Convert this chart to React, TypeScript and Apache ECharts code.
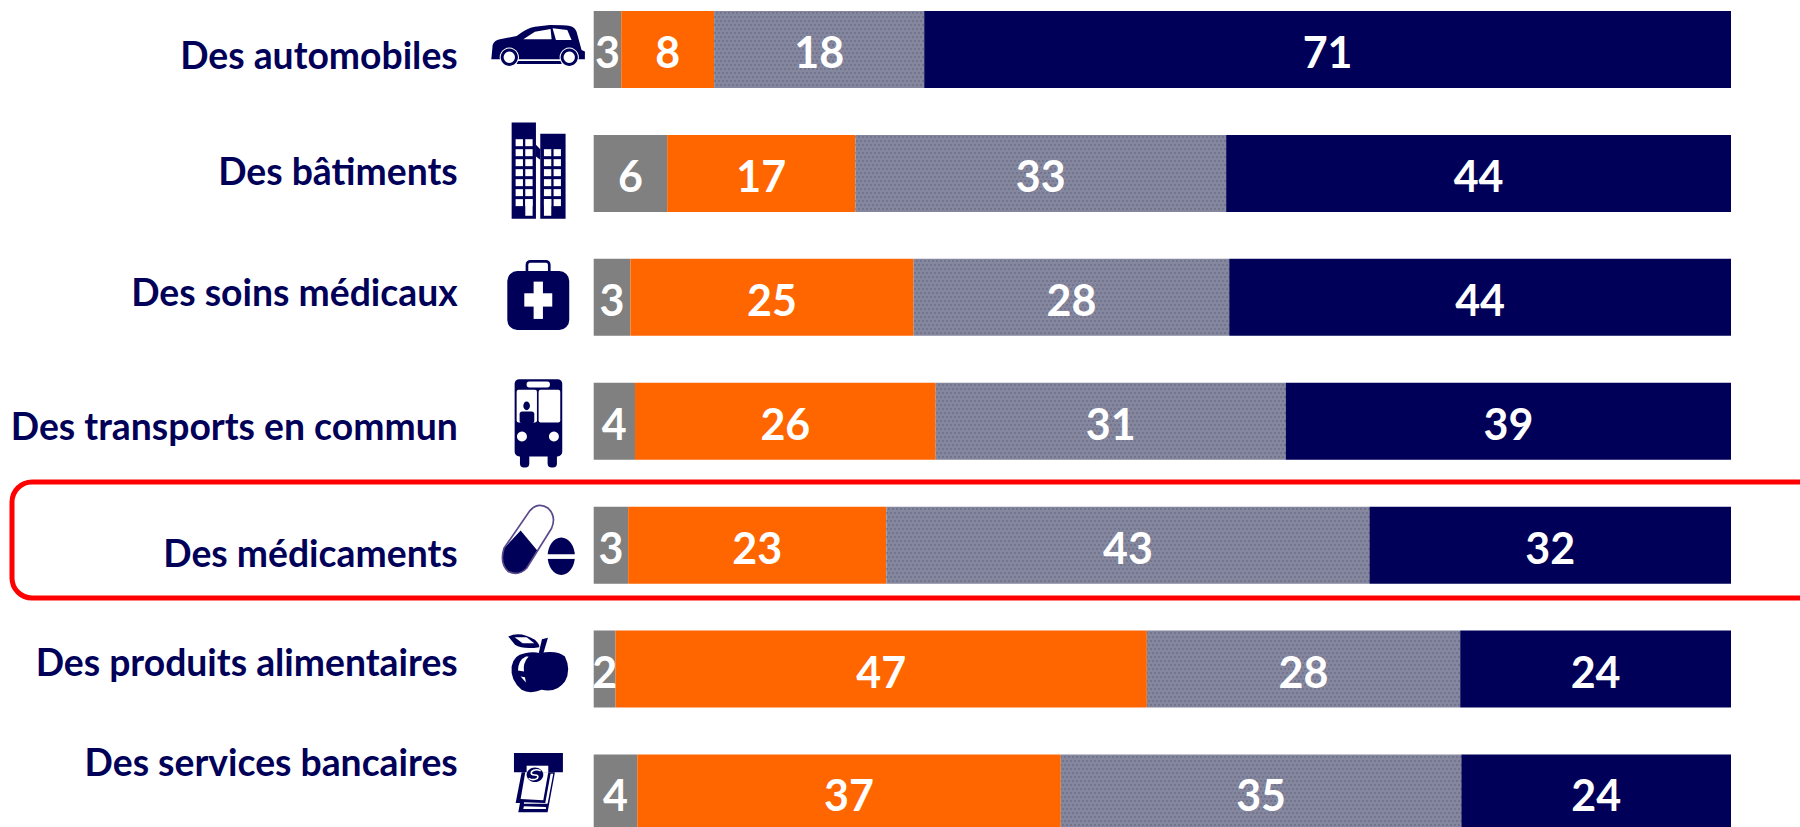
import React, { useEffect, useRef } from "react";
import * as echarts from "echarts";

const categories = ["Des automobiles", "Des bâtiments", "Des soins médicaux", "Des transports en commun", "Des médicaments", "Des produits alimentaires", "Des services bancaires"];
// Segment lengths (%), and the integers printed on them
const grayValues = [2.42, 6.46, 3.23, 3.63, 3.03, 1.92, 3.83];
const orangeValues = [8.17, 16.55, 24.9, 26.44, 22.7, 46.72, 37.24];
const hatchValues = [18.47, 32.6, 27.75, 30.78, 42.48, 27.55, 35.22];
const navyValues = [70.94, 44.39, 44.12, 39.15, 31.79, 23.81, 23.71];
const grayLabels = [3, 6, 3, 4, 3, 2, 4];
const orangeLabels = [8, 17, 25, 26, 23, 47, 37];
const hatchLabels = [18, 33, 28, 31, 43, 28, 35];
const navyLabels = [71, 44, 44, 39, 32, 24, 24];
// vertical nudge of each category label relative to its bar (px)
const labelShift = [5, -3, -6, 4, 7, -8, -31];

const NAVY = "#000058";
const WHITE = "#FFFFFF";
const FONT = "Lato";

echarts.graphic.registerShape("carBody", echarts.graphic.extendPath("M34 178 L38 135 Q42 122 60 118 L110 108 Q140 84 165 80 L210 75 Q255 75 270 78 Q285 82 290 95 L305 150 L315 155 L315 178 Z M110 183 L245 183 L245 192 L110 192 Z", {}));
echarts.graphic.registerShape("capsule", echarts.graphic.extendPath("M72 205 L150 92 Q175 65 205 85 Q230 110 215 145 L140 265 Q115 290 85 275 Q58 250 72 205 Z", {}));
echarts.graphic.registerShape("capsuleFill", echarts.graphic.extendPath("M122 152 L172 212 L140 265 Q115 290 85 275 Q58 250 72 205 Z", {}));
echarts.graphic.registerShape("appleBody", echarts.graphic.extendPath("M180 520 Q230 510 255 530 Q275 570 255 605 Q230 640 185 630 Q150 645 125 630 Q90 600 95 560 Q100 525 135 520 Q160 515 180 520 Z", {}));
echarts.graphic.registerShape("appleLeaf", echarts.graphic.extendPath("M85 470 Q120 452 165 480 Q180 495 178 502 Q130 510 105 495 Z", {}));
echarts.graphic.registerShape("appleShine", echarts.graphic.extendPath("M138 530 Q115 540 114 572 L132 575 Q128 550 146 530 Z M122 590 L138 608 L135 592 Z", {}));
echarts.graphic.registerShape("atmS", echarts.graphic.extendPath("M182 873 Q165 866 155 876 Q150 886 165 886 Q178 886 172 896 Q160 904 146 896", {}));

const rect = (x: number, y: number, w: number, h: number, fill = NAVY, r = 0) => ({ type: "rect", shape: { x, y, width: w, height: h, r }, style: { fill } });
const circ = (cx: number, cy: number, r: number, fill = NAVY) => ({ type: "circle", shape: { cx, cy, r }, style: { fill } });
const poly = (points: number[][], fill = NAVY) => ({ type: "polygon", shape: { points }, style: { fill } });
const shp = (type: string, style: object) => ({ type, style });

function windows(xs: number[], first: number, count: number) {
  const out: object[] = [];
  xs.forEach((x) => {
    for (let i = 0; i < count; i++) out.push(rect(x, first + i * 30, 22, 21, WHITE));
  });
  return out;
}

const iconCar = [
  shp("carBody", { fill: NAVY }),
  poly([[130, 118], [165, 95], [212, 87], [215, 118]], WHITE),
  poly([[218, 85], [262, 90], [275, 120], [228, 120]], WHITE),
  circ(88, 172, 29, WHITE), circ(88, 172, 26), circ(88, 172, 17, WHITE),
  circ(268, 172, 29, WHITE), circ(268, 172, 26), circ(268, 172, 17, WHITE),
];
const iconBuilding = [
  rect(95, 368, 73, 289), rect(181, 402, 76, 255),
  poly([[168, 435], [181, 448], [181, 480], [168, 470]]),
  ...windows([107, 136], 418, 7),
  ...windows([192, 221], 448, 6),
  rect(136, 598, 22, 50, WHITE), rect(192, 598, 22, 50, WHITE),
];
const iconBag = [
  { type: "rect", shape: { x: 141, y: 64, width: 67, height: 40, r: 10 }, style: { fill: "none", stroke: NAVY, lineWidth: 8 } },
  rect(82, 93, 186, 177, NAVY, 30),
  rect(133, 160, 84, 40, WHITE), rect(161, 125, 28, 112, WHITE),
];
const iconBus = [
  rect(120, 620, 28, 63, NAVY, 12), rect(203, 620, 28, 63, NAVY, 12),
  rect(104, 418, 143, 232, NAVY, 14),
  rect(140, 425, 70, 18, WHITE, 8),
  rect(110, 450, 61, 98, WHITE, 6), rect(176, 450, 65, 98, WHITE, 6),
  { type: "ellipse", shape: { cx: 140, cy: 498, rx: 10, ry: 13 }, style: { fill: NAVY } },
  rect(119, 515, 44, 35, NAVY, 8),
  circ(126, 590, 15, WHITE), circ(222, 590, 15, WHITE),
];
const iconPills = [
  shp("capsuleFill", { fill: NAVY }),
  shp("capsule", { fill: "none", stroke: "#5A4A8C", lineWidth: 5 }),
  { type: "ellipse", shape: { cx: 244, cy: 229, rx: 41, ry: 56 }, style: { fill: NAVY } },
  rect(200, 223, 90, 14, WHITE),
];
const iconApple = [
  shp("appleBody", { fill: NAVY }),
  poly([[176, 522], [186, 478], [204, 474], [190, 522]]),
  shp("appleLeaf", { fill: NAVY }),
  poly([[104, 472], [140, 472], [163, 490], [128, 490]], WHITE),
  shp("appleShine", { fill: WHITE }),
];
const iconAtm = [
  poly([[125, 878], [107, 970], [120, 970], [115, 998], [203, 998], [225, 878]]),
  rect(102, 820, 147, 58),
  poly([[140, 858], [205, 858], [205, 878], [140, 878]], WHITE),
  poly([[136, 878], [205, 878], [190, 962], [122, 958]], WHITE),
  poly([[212, 882], [220, 882], [203, 972], [132, 972], [132, 968], [196, 970]], WHITE),
  poly([[132, 980], [198, 982], [198, 988], [130, 988]], WHITE),
  { type: "ellipse", shape: { cx: 165, cy: 885, rx: 25, ry: 22 }, style: { fill: NAVY } },
  shp("atmS", { fill: "none", stroke: WHITE, lineWidth: 5 }),
];

// Icon sketches are drawn in crop units: three units to a pixel, from a crop origin
const icon = (originY: number, children: object[]) => ({ type: "group", x: 480, y: originY, scaleX: 1 / 3, scaleY: 1 / 3, silent: true, children });

const hatchDecal = { symbol: "rect", symbolSize: 1, color: "#73758F", dashArrayX: [[2, 2], [0, 2, 2, 0]], dashArrayY: [2, 2], rotation: 0 };

function makeSeries(name: string, values: number[], labels: number[], color: string, decal?: object) {
  return {
    name,
    type: "bar",
    stack: "total",
    barWidth: 77,
    data: values,
    itemStyle: decal ? { color, decal } : { color },
    label: {
      show: true,
      position: "inside",
      offset: [0, 2],
      color: WHITE,
      fontFamily: FONT,
      fontWeight: "bold",
      fontSize: 43,
      formatter: (p: { dataIndex: number }) => String(labels[p.dataIndex]),
    },
  };
}

export default function App() {
  const ref = useRef<HTMLDivElement>(null);
  useEffect(() => {
    document.body.style.margin = "0";
    document.body.style.background = "#fff";
    const chart = echarts.init(ref.current!, null, { renderer: "svg" });
    const rich: Record<string, object> = {};
    labelShift.forEach((d, i) => {
      rich["r" + i] = {
        color: NAVY,
        fontFamily: FONT,
        fontWeight: "bold",
        fontSize: 37.3,
        padding: d >= 0 ? [d * 2, 0, 0, 0] : [0, 0, -d * 2, 0],
      };
    });
    chart.setOption({
      animation: false,
      backgroundColor: "#FFFFFF",
      grid: { left: 593.7, width: 1137.3, top: -12.4, height: 867.3, containLabel: false, outerBoundsMode: "none" },
      xAxis: { type: "value", min: 0, max: 100, show: false },
      yAxis: {
        type: "category",
        inverse: true,
        data: categories,
        axisLine: { show: false },
        axisTick: { show: false },
        axisLabel: {
          margin: 136,
          interval: 0,
          align: "right",
          formatter: (v: string) => `{r${categories.indexOf(v)}|${v}}`,
          rich,
        },
      },
      series: [
        makeSeries("Gris", grayValues, grayLabels, "#808080"),
        makeSeries("Orange", orangeValues, orangeLabels, "#FF6600"),
        makeSeries("Hachuré", hatchValues, hatchLabels, "#85879E", hatchDecal),
        makeSeries("Bleu", navyValues, navyLabels, NAVY),
      ],
      graphic: [
        { type: "rect", silent: true, shape: { x: 12, y: 482, width: 1850, height: 116, r: 20 }, style: { fill: "none", stroke: "#FF0000", lineWidth: 5 } },
        icon(0, iconCar),
        icon(0, iconBuilding),
        icon(240, iconBag),
        icon(240, iconBus),
        icon(480, iconPills),
        icon(480, iconApple),
        icon(480, iconAtm),
      ],
    });
    return () => chart.dispose();
  }, []);
  return <div ref={ref} style={{ width: 1800, height: 827, overflow: "hidden" }} />;
}
